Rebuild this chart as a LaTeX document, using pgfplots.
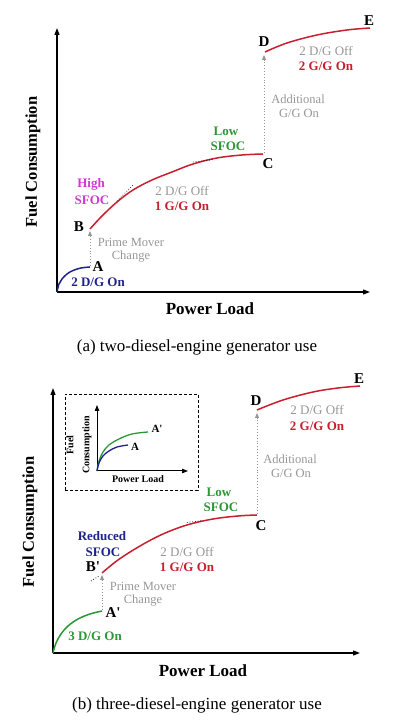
\documentclass[border=0pt]{standalone}
\usepackage{pgfplots}
\pgfplotsset{compat=1.18}
\usepackage{fontspec}
\setmainfont{Liberation Serif}
\usetikzlibrary{arrows.meta}

\definecolor{cnavy}{RGB}{30,35,140}
\definecolor{cred}{RGB}{200,30,45}
\definecolor{cgreen}{RGB}{45,150,55}
\definecolor{cmag}{RGB}{210,55,210}
\definecolor{cgray}{RGB}{150,150,150}

\newcommand{\fs}[1]{\fontsize{#1}{#1}\selectfont}
\newcommand{\pr}{\textquotesingle}

\pgfplotsset{
  sketch/.style={
    scale only axis, axis lines=left, ticks=none, clip=false,
    xmin=0, ymin=0, anchor=south west,
    axis line style={line width=1.2pt, -{Triangle[length=7pt,width=5pt]}},
  },
  curve/.style={line width=1.5pt, smooth, tension=0.6},
  jump/.style={cgray, line width=0.9pt, dotted, -{Triangle[length=5pt,width=4pt]}},
  tangent/.style={black, line width=0.7pt, dotted},
}

\begin{document}
\begin{tikzpicture}
\useasboundingbox (0,0) rectangle (405pt,720pt);

% (a) two-diesel-engine generator use
\begin{axis}[sketch, at={(57pt,428pt)}, width=313pt, height=264pt, xmax=313, ymax=264]
\addplot[curve, cnavy] coordinates {(0,0) (2,8) (5,13) (10,18) (16,21.5) (24,24) (33,25)};
\addplot[curve, cred] coordinates {(33,63) (45,76) (60,90) (76,102) (95,112) (115,120) (136,128) (160,134) (185,137) (206,138)};
\addplot[curve, cred] coordinates {(208,240) (230,249) (260,257) (290,262) (313,264)};
\addplot[jump] coordinates {(33,26) (33,61)};
\addplot[jump] coordinates {(207,139) (207,237)};
\addplot[tangent] coordinates {(60,91) (76,107)};
\addplot[tangent] coordinates {(136,130) (156,132.5)};

\node[font=\fs{15}\bfseries] at (41,25) {A};
\node[font=\fs{13}\bfseries, cnavy] at (41,10) {2 D/G On};
\node[font=\fs{15}\bfseries] at (22,65) {B};
\node[font=\fs{12.5}, cgray] at (74,50) {Prime Mover};
\node[font=\fs{12.5}, cgray] at (74,35) {Change};
\node[font=\fs{13}\bfseries, cmag] at (34,108) {High};
\node[font=\fs{13}\bfseries, cmag] at (35,92) {SFOC};
\node[font=\fs{13}, cgray] at (125,101) {2 D/G Off};
\node[font=\fs{13}\bfseries, cred] at (125,86) {1 G/G On};
\node[font=\fs{13}\bfseries, cgreen] at (169,161) {Low};
\node[font=\fs{13}\bfseries, cgreen] at (171,146) {SFOC};
\node[font=\fs{15}\bfseries] at (211,128) {C};
\node[font=\fs{15}\bfseries] at (207,250) {D};
\node[font=\fs{12.5}, cgray] at (241,193) {Additional};
\node[font=\fs{12.5}, cgray] at (242,179) {G/G On};
\node[font=\fs{13}, cgray] at (269,241) {2 D/G Off};
\node[font=\fs{13}\bfseries, cred] at (269,226) {2 G/G On};
\node[font=\fs{15}\bfseries] at (312,271) {E};

\node[font=\fs{16.5}\bfseries, rotate=90] at (-24,130) {Fuel Consumption};
\node[font=\fs{17}\bfseries] at (153,-17) {Power Load};
\node[font=\fs{17}] at (140,-55) {(a) two-diesel-engine generator use};
\end{axis}

% (b) three-diesel-engine generator use
\begin{axis}[sketch, at={(53pt,67pt)}, width=307pt, height=265pt, xmax=307, ymax=265]
\addplot[curve, cgreen] coordinates {(0,0) (3,10) (8,19) (15,27) (25,34) (37,39) (49,42)};
\addplot[curve, cred] coordinates {(49,80) (65,93) (87,107) (110,119) (134,128) (160,134) (185,137) (204,138)};
\addplot[curve, cred] coordinates {(204,243) (230,253) (260,261) (285,265) (307,267)};
\addplot[jump] coordinates {(49,43) (49,78)};
\addplot[jump] coordinates {(204,139) (204,240)};
\addplot[tangent] coordinates {(38,72) (46,77)};
\addplot[tangent] coordinates {(134,130.5) (150,132.5)};

\node[font=\fs{15}\bfseries] at (60,40) {A\pr};
\node[font=\fs{13}\bfseries, cgreen] at (42,17) {3 D/G On};
\node[font=\fs{15}\bfseries] at (40,86) {B\pr};
\node[font=\fs{12.5}, cgray] at (90,67) {Prime Mover};
\node[font=\fs{12.5}, cgray] at (90,52) {Change};
\node[font=\fs{13}\bfseries, cnavy] at (49,117) {Reduced};
\node[font=\fs{13}\bfseries, cnavy] at (50,101) {SFOC};
\node[font=\fs{13}, cgray] at (134,101) {2 D/G Off};
\node[font=\fs{13}\bfseries, cred] at (134,86) {1 G/G On};
\node[font=\fs{13}\bfseries, cgreen] at (166,161) {Low};
\node[font=\fs{13}\bfseries, cgreen] at (168,146) {SFOC};
\node[font=\fs{15}\bfseries] at (208,127) {C};
\node[font=\fs{15}\bfseries] at (203,252) {D};
\node[font=\fs{12.5}, cgray] at (237,194) {Additional};
\node[font=\fs{12.5}, cgray] at (238,180) {G/G On};
\node[font=\fs{13}, cgray] at (264,243) {2 D/G Off};
\node[font=\fs{13}\bfseries, cred] at (264,227) {2 G/G On};
\node[font=\fs{15}\bfseries] at (306,274) {E};

\node[font=\fs{16.5}\bfseries, rotate=90] at (-23,131) {Fuel Consumption};
\node[font=\fs{17}\bfseries] at (150,-18) {Power Load};
\node[font=\fs{17}] at (144,-52) {(b) three-diesel-engine generator use};
\end{axis}

% inset
\draw[line width=0.6pt, densely dashed] (65pt,230pt) rectangle (198pt,326pt);
\begin{axis}[sketch, at={(97pt,249pt)}, width=91pt, height=66pt, xmax=91, ymax=66,
  axis line style={line width=1pt, -{Triangle[length=6pt,width=4.5pt]}}]
\addplot[curve, cgreen, line width=1.3pt] coordinates {(0,0) (2,10) (6,19) (12,26) (22,32) (35,37) (51,39)};
\addplot[curve, cnavy, line width=1.3pt] coordinates {(0,0) (2,8) (6,15) (12,20) (20,24) (31,26)};
\node[font=\fs{11}\bfseries] at (60,42) {A\pr};
\node[font=\fs{11}\bfseries] at (38,24) {A};
\node[font=\fs{10}\bfseries] at (41,-8) {Power Load};
\node[font=\fs{10}\bfseries, rotate=90] at (-27,26) {Fuel};
\node[font=\fs{10}\bfseries, rotate=90] at (-10,26) {Consumption};
\end{axis}
\end{tikzpicture}
\end{document}
